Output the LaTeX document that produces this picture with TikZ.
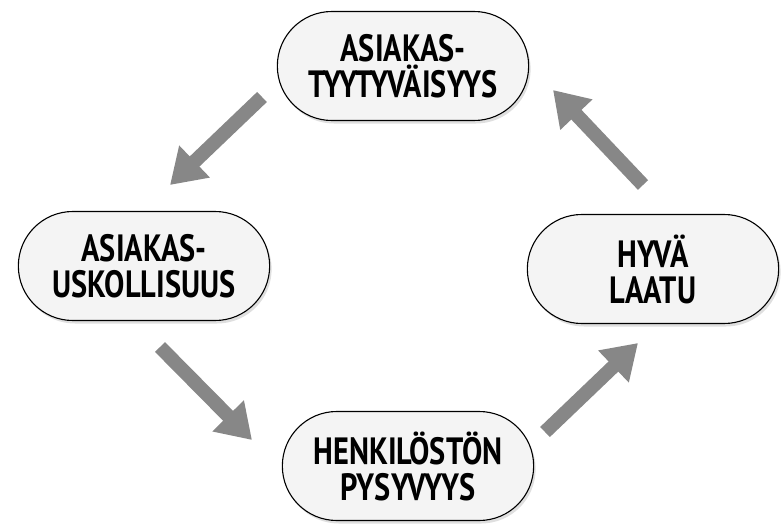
\documentclass[tikz,border=0pt]{standalone}
\usepackage{fontspec}
\newfontfamily\labelfont{PT Sans}[FakeStretch=0.8]
\usetikzlibrary{positioning,shapes.misc,arrows.meta,shadows}

\begin{document}
\begin{tikzpicture}[x=1pt,y=1pt,node distance=200pt and 259pt,on grid,
	phase/.style={rounded rectangle,draw,line width=1.1pt,fill=gray!9,
		minimum width=258pt,minimum height=109pt,align=center,
		font=\labelfont\bfseries\fontsize{38}{36}\selectfont,
		drop shadow={opacity=0.25,shadow xshift=2pt,shadow yshift=-3pt}},
	flow/.style={draw=black!47,line width=14pt,-{Triangle[width=42pt,length=34pt]}}]

	\useasboundingbox (0,0) rectangle (782,-527);

	\node[phase] (tyyt) at (403,-66) {ASIAKAS-\\TYYTYVÄISYYS};
	\node[phase] (usk) [below left=200pt and 259pt of tyyt] {ASIAKAS-\\USKOLLISUUS};
	\node[phase] (laatu) [below right=203pt and 250pt of tyyt] {HYVÄ\\LAATU};
	\node[phase] (pys) [below right=200pt and 264pt of usk] {HENKILÖSTÖN\\PYSYVYYS};

	\coordinate (s1) at (262,-97);  \coordinate (e1) at (170,-185);
	\coordinate (s2) at (160,-347); \coordinate (e2) at (252,-440);
	\coordinate (s3) at (545,-432); \coordinate (e3) at (638,-343);
	\coordinate (s4) at (643,-185); \coordinate (e4) at (553,-90);

	\draw[flow] (s1) -- (e1);
	\draw[flow] (s2) -- (e2);
	\draw[flow] (s3) -- (e3);
	\draw[flow] (s4) -- (e4);
\end{tikzpicture}
\end{document}
